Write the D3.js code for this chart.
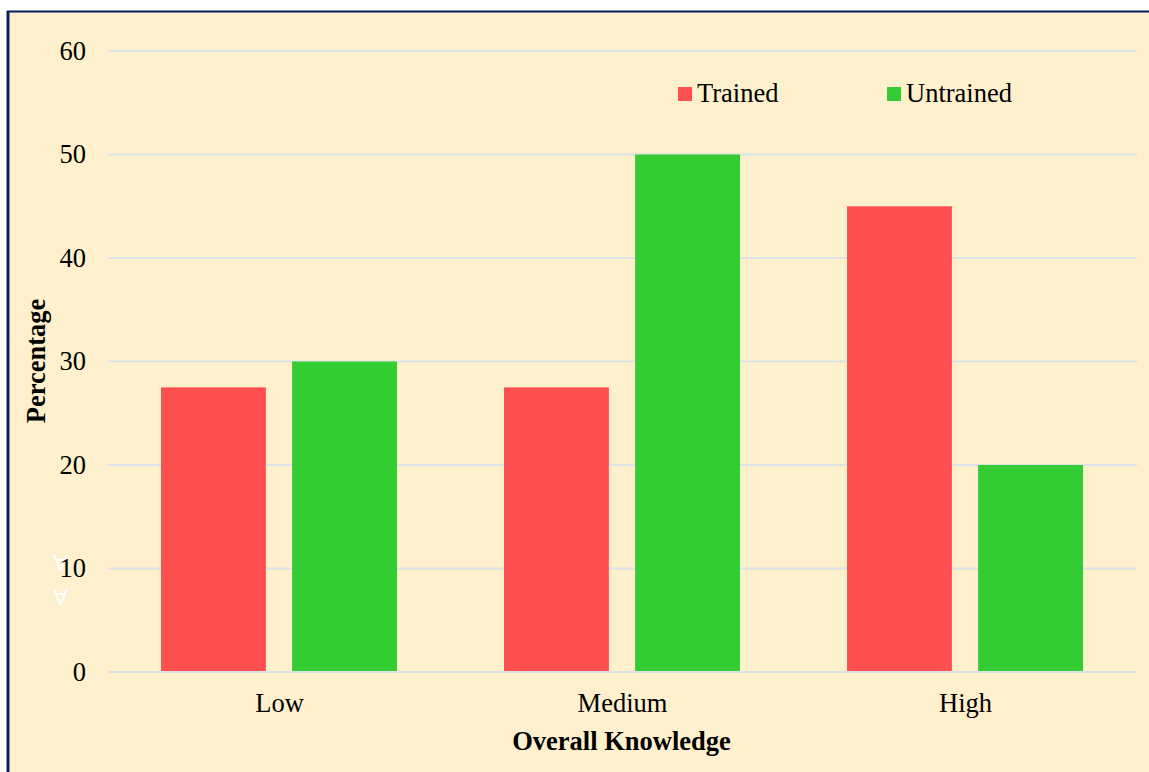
<!DOCTYPE html>
<html>
<head>
<meta charset="utf-8">
<script src="https://cdn.jsdelivr.net/npm/d3@7"></script>
<style>
  html, body { margin: 0; padding: 0; background: #ffffff; }
  svg { display: block; }
</style>
</head>
<body>
<svg id="chart" width="1149" height="772"></svg>
<script>
// Knowledge level categories and the share of each group (percent)
const categories = ["Low", "Medium", "High"];
const seriesNames = ["Trained", "Untrained"];
const trained = [27.5, 27.5, 45];
const untrained = [30, 50, 20];
const yTicks = [0, 10, 20, 30, 40, 50, 60];

const colors = { Trained: "#FF5050", Untrained: "#33CC33" };
const serif = "'Liberation Serif', 'Times New Roman', serif";
const fontSize = 26.5;

const svg = d3.select("#chart");
const W = 1149, H = 772;

// panel background with dark frame on the left and top edges
svg.append("rect").attr("x", 8).attr("y", 12).attr("width", W - 8).attr("height", H - 12)
  .attr("fill", "#FFF0CD");
svg.append("line").attr("x1", 8).attr("x2", 8).attr("y1", 11).attr("y2", H)
  .attr("stroke", "#0B1F5C").attr("stroke-width", 3);
svg.append("line").attr("x1", 7).attr("x2", W).attr("y1", 11.5).attr("y2", 11.5)
  .attr("stroke", "#0B1F5C").attr("stroke-width", 2);

const plot = { left: 108, right: 1137, top: 51, bottom: 672 };

const x = d3.scaleBand().domain(categories).range([plot.left, plot.right]).paddingInner(0).paddingOuter(0);
const inner = d3.scaleBand().domain(seriesNames).range([53, x.bandwidth() - 54]).paddingInner(0.2).paddingOuter(0);
const y = d3.scaleLinear().domain([0, 60]).range([plot.bottom, plot.top]);

// horizontal gridlines
svg.append("g").selectAll("line").data(yTicks).join("line")
  .attr("x1", plot.left).attr("x2", plot.right)
  .attr("y1", d => y(d)).attr("y2", d => y(d))
  .attr("stroke", "#DCE2E8").attr("stroke-width", 2);

// stray white glyphs near the lower y axis, beneath the tick labels
svg.append("g").selectAll("text").data([571, 605]).join("text")
  .attr("x", 60).attr("y", d => d).attr("text-anchor", "middle")
  .attr("font-family", serif).attr("font-size", 22).attr("fill", "#FFFFFF")
  .text("∀");

// y axis tick labels
const yAxis = d3.axisLeft(y).tickValues(yTicks).tickSize(0).tickPadding(0);
const yg = svg.append("g").attr("transform", `translate(86,0)`).call(yAxis);
yg.select(".domain").remove();
yg.attr("font-size", null).attr("font-family", null);
yg.selectAll("text").attr("font-family", serif).attr("font-size", fontSize).attr("fill", "#000");

// bars
const rows = categories.map((c, i) => ({ cat: c, values: [
  { s: "Trained", v: trained[i] }, { s: "Untrained", v: untrained[i] }
]}));
const groups = svg.append("g").selectAll("g").data(rows).join("g")
  .attr("transform", d => `translate(${x(d.cat)},0)`);
groups.selectAll("rect").data(d => d.values).join("rect")
  .attr("x", d => inner(d.s))
  .attr("width", inner.bandwidth())
  .attr("y", d => y(d.v))
  .attr("height", d => y(0) - y(d.v))
  .attr("fill", d => colors[d.s]);

// baseline
svg.append("line").attr("x1", plot.left).attr("x2", plot.right)
  .attr("y1", y(0)).attr("y2", y(0)).attr("stroke", "#DCE2E8").attr("stroke-width", 2);

// x axis category labels
const xAxis = d3.axisBottom(x).tickSize(0).tickPadding(0);
const xg = svg.append("g").attr("transform", `translate(0,${y(0) + 21})`).call(xAxis);
xg.select(".domain").remove();
xg.attr("font-size", null).attr("font-family", null);
xg.selectAll("text").attr("font-family", serif).attr("font-size", fontSize).attr("fill", "#000");

// axis titles
svg.append("text").attr("x", (plot.left + plot.right) / 2 - 1).attr("y", 750)
  .attr("text-anchor", "middle").attr("font-family", serif).attr("font-size", fontSize)
  .attr("font-weight", "bold").text("Overall Knowledge");
svg.append("text").attr("transform", `translate(45,${361}) rotate(-90)`)
  .attr("text-anchor", "middle").attr("font-family", serif).attr("font-size", fontSize)
  .attr("font-weight", "bold").text("Percentage");

// legend
const legendX = [678, 887];
const lg = svg.append("g").selectAll("g").data(seriesNames).join("g")
  .attr("transform", (d, i) => `translate(${legendX[i]},87)`);
lg.append("rect").attr("width", 14).attr("height", 14).attr("fill", d => colors[d]);
lg.append("text").attr("x", 19).attr("y", 14.5).attr("font-family", serif).attr("font-size", fontSize)
  .attr("fill", "#000").text(d => d);
</script>
</body>
</html>
